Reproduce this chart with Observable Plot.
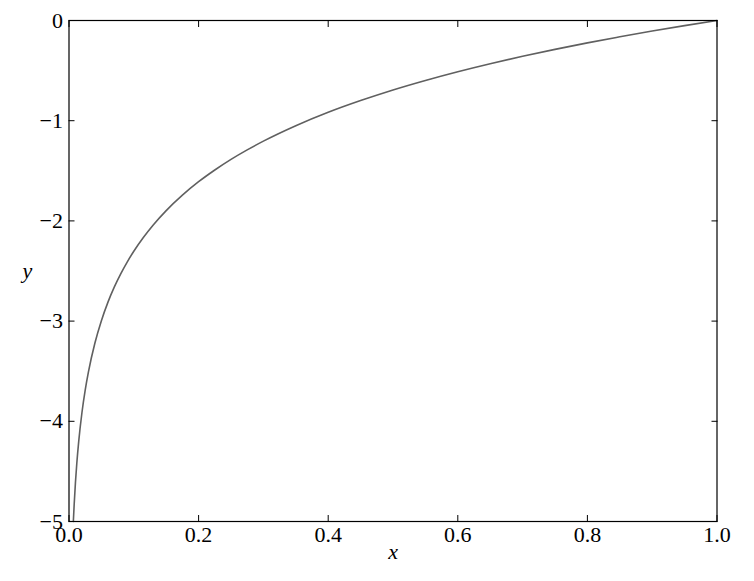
<!DOCTYPE html>
<html>
<head>
<meta charset="utf-8">
<script src="https://cdn.jsdelivr.net/npm/d3@7"></script>
<script src="https://cdn.jsdelivr.net/npm/@observablehq/plot@0.6"></script>
<style>
  html, body { margin: 0; padding: 0; background: #fff; }
  svg { display: block; }
  svg text { font-family: "Liberation Serif", serif; }
</style>
</head>
<body>
<div id="chart"></div>
<script>
// Curve values
const xs = [0.0067, 0.008, 0.01, 0.012, 0.015, 0.02, 0.025, 0.03, 0.04, 0.05, 0.06, 0.07, 0.08, 0.09, 0.1, 0.115, 0.13, 0.15, 0.175, 0.2, 0.225, 0.25, 0.275, 0.3, 0.35, 0.4, 0.45, 0.5, 0.55, 0.6, 0.65, 0.7, 0.75, 0.8, 0.85, 0.9, 0.95, 1.0];
const ys = [-5.0, -4.828, -4.605, -4.423, -4.200, -3.912, -3.689, -3.507, -3.219, -2.996, -2.813, -2.659, -2.526, -2.408, -2.303, -2.163, -2.040, -1.897, -1.743, -1.609, -1.492, -1.386, -1.291, -1.204, -1.050, -0.916, -0.799, -0.693, -0.598, -0.511, -0.431, -0.357, -0.288, -0.223, -0.163, -0.105, -0.051, 0.0];
const xTicks = [0.0, 0.2, 0.4, 0.6, 0.8, 1.0];
const yTicks = [-5, -4, -3, -2, -1, 0];
const xLabel = "x";
const yLabel = "y";

const data = xs.map((x, i) => ({x, y: ys[i]}));
const serif = "'Liberation Serif', serif";

const chart = Plot.plot({
  width: 754,
  height: 581,
  marginLeft: 68.5,
  marginRight: 37.5,
  marginTop: 20,
  marginBottom: 60,
  style: {fontFamily: serif, fontSize: "22px", color: "#000", background: "#fff"},
  x: {domain: [0, 1]},
  y: {domain: [-5, 0]},
  marks: [
    Plot.line(data, {x: "x", y: "y", stroke: "#606060", strokeWidth: 1.6, curve: "monotone-x"}),
    Plot.axisX(xTicks, {anchor: "bottom", tickSize: -6, text: null, label: null, stroke: "#000"}),
    Plot.axisX(xTicks, {anchor: "top", tickSize: -6, text: null, label: null, stroke: "#000"}),
    Plot.axisY(yTicks, {anchor: "left", tickSize: -6, text: null, label: null, stroke: "#000"}),
    Plot.axisY(yTicks, {anchor: "right", tickSize: -6, text: null, label: null, stroke: "#000"}),
    Plot.axisX(xTicks, {anchor: "bottom", tickSize: 0, tickPadding: 5, tickFormat: d3.format(".1f"), label: null, fontSize: 22, fontFamily: serif, fill: "#000"}),
    Plot.axisY(yTicks, {anchor: "left", tickSize: 0, tickPadding: 6, tickFormat: d3.format("d"), label: null, fontSize: 22, fontFamily: serif, fill: "#000"}),
    Plot.frame({stroke: "#000", strokeWidth: 1.2}),
    Plot.text([xLabel], {text: d => d, frameAnchor: "bottom", dy: 37, fontStyle: "italic", fontSize: 22, fontFamily: serif}),
    Plot.text([yLabel], {text: d => d, frameAnchor: "left", dx: -46.5, fontStyle: "italic", fontSize: 22, fontFamily: serif})
  ]
});
document.getElementById("chart").appendChild(chart);
</script>
</body>
</html>
